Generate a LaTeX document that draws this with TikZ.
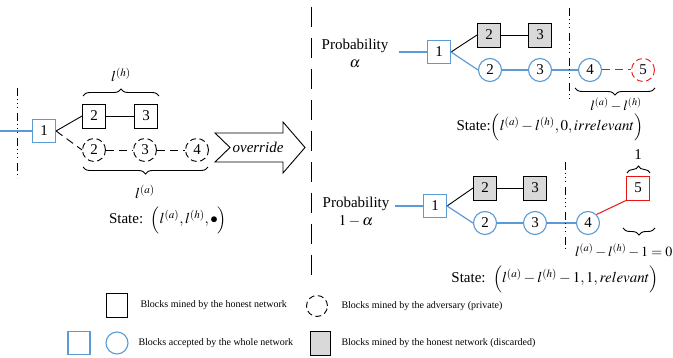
\documentclass[tikz,border=0pt]{standalone}
\usepackage{mathptmx}
\usepackage{fontspec}
\setmainfont{Liberation Serif}
\usetikzlibrary{decorations.pathreplacing,calc}
\definecolor{bblue}{RGB}{91,155,213}
\definecolor{bred}{RGB}{235,20,20}
\begin{document}
\begin{tikzpicture}[x=1pt,y=-1pt,
  font=\fontsize{15}{17}\selectfont,
  hblock/.style={draw=black,line width=0.9pt,minimum width=23pt,minimum height=24pt,inner sep=0pt},
  gblock/.style={hblock,fill=gray!30},
  ablock/.style={draw=bblue,line width=1.1pt,minimum width=23pt,minimum height=23pt,inner sep=0pt},
  acirc/.style={circle,draw=bblue,line width=1.1pt,minimum size=23pt,inner sep=0pt},
  advcirc/.style={circle,draw=black,line width=0.9pt,dash pattern=on 6pt off 3.5pt,minimum size=23pt,inner sep=0pt},
  redcirc/.style={advcirc,draw=bred},
  redblock/.style={hblock,draw=bred},
  hline/.style={draw=black,line width=0.9pt},
  bline/.style={draw=bblue,line width=1.2pt},
  dline/.style={draw=black,line width=0.9pt,dash pattern=on 8pt off 5pt},
  rline/.style={draw=bred,line width=1pt},
  rdline/.style={draw=bred,line width=1pt,dash pattern=on 8pt off 5pt},
  cutline/.style={draw=black,line width=0.9pt,dash pattern=on 8pt off 3pt on 1pt off 3pt on 1pt off 3pt on 1pt off 5pt},
  sepline/.style={draw=black,line width=1pt,dash pattern=on 20pt off 11pt},
  brc/.style={draw=black,line width=0.9pt,decorate,decoration={brace,amplitude=7pt}},
  smallmath/.style={font=\fontsize{14}{15}\selectfont,inner sep=0.5pt},
  legtext/.style={anchor=west,font=\fontsize{10}{12}\selectfont}
]
\useasboundingbox (0,0) rectangle (673,358);

% separator
\draw[sepline] (311,7) -- (311,278);

% ---------------- left part ----------------
\draw[cutline] (17.5,88) -- (17.5,178);
\coordinate (lin) at (0,131);
\node[ablock] (L1) at (44,131) {1};
\node[hblock] (L2) at (94,116) {2};
\node[hblock] (L3) at (146,116) {3};
\node[advcirc] (A2) at (94,150) {2};
\node[advcirc] (A3) at (145,150) {3};
\node[advcirc] (A4) at (197,150) {4};
\draw[bline] (lin) -- (L1);
\draw[hline] (L1.east) -- (L2.west);
\draw[hline] (L2) -- (L3);
\draw[dline] (L1.east) -- (A2.west);
\draw[dline] (A2) -- (A3);
\draw[dline] (A3) -- (A4);
\draw[brc] (83,96) -- (159,96);
\node (lh) at (121,75) {$l^{(h)}$};
\draw[brc] (208,167) -- (83,167);
\node (la) at (145,192) {$l^{(a)}$};
\node (stL) at (168,220) {State:\ \ $\left(l^{(a)},l^{(h)},\bullet\right)$};

% override arrow
\coordinate (o1) at (215,133);
\coordinate (o2) at (230,147.5);
\coordinate (o3) at (215,162);
\coordinate (o4) at (283,162);
\coordinate (o5) at (283,173);
\coordinate (o6) at (305,147.5);
\coordinate (o7) at (283,122);
\coordinate (o8) at (283,133);
\draw[line width=0.9pt,line join=miter] (o1) -- (o2) -- (o3) -- (o4) -- (o5) -- (o6) -- (o7) -- (o8) -- cycle;
\node (ov) at (258,147.5) {\itshape override};

% ---------------- top right ----------------
\node (p1) at (355,46) {Probability};
\node (p1a) at (355,64) {$\alpha$};
\coordinate (t0) at (399,52);
\node[ablock] (T1) at (439,52) {1};
\node[gblock] (T2) at (489,35) {2};
\node[gblock] (T3) at (540,35) {3};
\node[acirc] (TC2) at (490,70) {2};
\node[acirc] (TC3) at (540,70) {3};
\node[acirc] (TC4) at (590,70) {4};
\node[redcirc] (TC5) at (643,70) {5};
\draw[bline] (t0) -- (T1);
\draw[hline] (T1.east) -- (T2.west);
\draw[hline] (T2) -- (T3);
\draw[bline] (T1.east) -- (TC2.west);
\draw[bline] (TC2) -- (TC3);
\draw[bline] (TC3) -- (TC4);
\draw[rdline] (TC4) -- (TC5);
\draw[cutline] (569,8) -- (569,99);
\draw[brc] (655,88) -- (575,88);
\node[smallmath] (tl) at (616,105) {$l^{(a)}-l^{(h)}$};
\node (stT) at (550,127) {State:$\left(l^{(a)}-l^{(h)},0,irrelevant\right)$};

% ---------------- bottom right ----------------
\node (p2) at (356,204) {Probability};
\node (p2a) at (356,221) {$1-\alpha$};
\coordinate (b0) at (395,206);
\node[ablock] (B1) at (435,206) {1};
\node[gblock] (B2) at (485,188) {2};
\node[gblock] (B3) at (535,188) {3};
\node[acirc] (BC2) at (485,223) {2};
\node[acirc] (BC3) at (535,223) {3};
\node[acirc] (BC4) at (588,223) {4};
\node[redblock] (B5) at (638,188) {5};
\draw[bline] (b0) -- (B1);
\draw[hline] (B1.east) -- (B2.west);
\draw[hline] (B2) -- (B3);
\draw[bline] (B1.east) -- (BC2.west);
\draw[bline] (BC2) -- (BC3);
\draw[bline] (BC3) -- (BC4);
\draw[rline] (BC4.north east) -- (B5.south west);
\draw[cutline] (565,162) -- (565,250);
\draw[brc] (627,173) -- (650,173);
\node (one) at (638,155) {1};
\draw[brc] (655,228) -- (623,228);
\node[smallmath,anchor=east] (bl) at (673,251) {$l^{(a)}-l^{(h)}-1=0$};
\node (stB) at (555,279) {State:\ \ $\left(l^{(a)}-l^{(h)}-1,1,relevant\right)$};

% ---------------- legend ----------------
\node[hblock,minimum width=21pt,minimum height=24pt] (lg1) at (117,305) {};
\node[legtext] (lt1) at (137,305) {Blocks mined by the honest network};
\node[advcirc,minimum size=21pt] (lg2) at (317,306) {};
\node[legtext] (lt2) at (338,306) {Blocks mined by the adversary (private)};
\node[ablock,minimum width=22pt,minimum height=23pt] (lg3) at (79,343) {};
\node[acirc,minimum size=22pt] (lg4) at (117,343) {};
\node[legtext] (lt4) at (135,343) {Blocks accepted by the whole network};
\node[gblock,minimum width=20pt,minimum height=24pt] (lg5) at (320,343) {};
\node[legtext] (lt5) at (338,343) {Blocks mined by the honest network (discarded)};
\end{tikzpicture}
\end{document}
